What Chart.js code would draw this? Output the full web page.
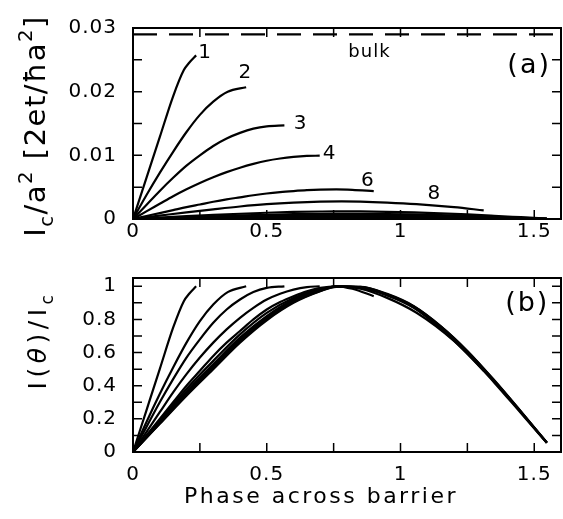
<!DOCTYPE html>
<html>
<head>
<meta charset="utf-8">
<script src="https://cdn.jsdelivr.net/npm/chart.js@4.4.0/dist/chart.umd.min.js"></script>
<style>
  html, body { margin: 0; padding: 0; background: #fff; }
  #wrap { position: relative; width: 563px; height: 519px; }
  canvas { position: absolute; left: 0; }
</style>
</head>
<body>
<div id="wrap">
  <canvas id="chartA" width="563" height="250" style="top:0"></canvas>
  <canvas id="chartB" width="563" height="269" style="top:250px"></canvas>
</div>
<script>
// axis ranges and ticks
const xMin = 0, xMax = 1.6;
const xTicks = [0, 0.5, 1, 1.5];
const yTicksA = [0, 0.01, 0.02, 0.03];
const yTicksB = [0, 0.2, 0.4, 0.6, 0.8, 1];

// curve names (labels in panel a) and critical currents I_c/a^2
const curveNames = ['1', '2', '3', '4', '6', '8', '10', '12', '14', '16', '18'];
const critCurrent = [0.0257, 0.0207, 0.0147, 0.00995, 0.00466, 0.00277, 0.00120, 0.00082, 0.00056, 0.00036, 0.00020];
const bulkCurrent = 0.029;

// phase points and normalised current I/I_c (panel b) for every curve
const phase1 = [0, 0.05, 0.10, 0.15, 0.19, 0.21, 0.236];
const norm1  = [0, 0.25, 0.50, 0.75, 0.91, 0.955, 1.0];
const phase2 = [0, 0.05, 0.10, 0.15, 0.20, 0.25, 0.30, 0.354, 0.423];
const norm2  = [0, 0.18, 0.35, 0.51, 0.66, 0.79, 0.89, 0.965, 1.0];
const phase3 = [0, 0.05, 0.10, 0.15, 0.20, 0.25, 0.30, 0.35, 0.40, 0.45, 0.50, 0.566];
const norm3  = [0, 0.15, 0.30, 0.44, 0.57, 0.68, 0.78, 0.86, 0.92, 0.965, 0.99, 1.0];
const phase4 = [0, 0.05, 0.10, 0.15, 0.20, 0.25, 0.30, 0.35, 0.40, 0.45, 0.50, 0.55, 0.60, 0.65, 0.698];
const norm4  = [0, 0.12, 0.24, 0.36, 0.47, 0.57, 0.66, 0.74, 0.81, 0.87, 0.92, 0.955, 0.98, 0.995, 1.0];
const phase6 = [0, 0.05, 0.10, 0.15, 0.20, 0.25, 0.30, 0.35, 0.40, 0.45, 0.50, 0.55, 0.60, 0.65, 0.70, 0.76, 0.82, 0.90];
const norm6  = [0, 0.10, 0.20, 0.30, 0.40, 0.49, 0.58, 0.66, 0.73, 0.80, 0.86, 0.905, 0.94, 0.97, 0.99, 1.0, 0.985, 0.94];
const phase8 = [0, 0.10, 0.20, 0.30, 0.40, 0.50, 0.60, 0.70, 0.78, 0.85, 0.95, 1.06, 1.20, 1.311];
const norm8  = [0, 0.19, 0.38, 0.55, 0.71, 0.84, 0.93, 0.985, 1.0, 0.985, 0.93, 0.84, 0.67, 0.49];
const phaseLong = [0, 0.10, 0.20, 0.30, 0.40, 0.50, 0.60, 0.70, 0.76, 0.85, 0.95, 1.05, 1.15, 1.25, 1.35, 1.45, 1.547];
const norm10 = [0, 0.185, 0.365, 0.53, 0.69, 0.82, 0.92, 0.98, 1.0, 0.99, 0.945, 0.87, 0.745, 0.595, 0.42, 0.235, 0.055];
const norm12 = [0, 0.18, 0.355, 0.52, 0.68, 0.815, 0.915, 0.978, 1.0, 0.992, 0.948, 0.872, 0.75, 0.60, 0.425, 0.24, 0.056];
const norm14 = [0, 0.175, 0.35, 0.51, 0.67, 0.805, 0.91, 0.975, 1.0, 0.994, 0.95, 0.876, 0.755, 0.605, 0.43, 0.242, 0.056];
const norm16 = [0, 0.172, 0.345, 0.505, 0.665, 0.80, 0.905, 0.972, 0.998, 0.996, 0.952, 0.878, 0.758, 0.608, 0.432, 0.244, 0.057];
const norm18 = [0, 0.17, 0.34, 0.50, 0.66, 0.795, 0.90, 0.97, 0.997, 0.997, 0.954, 0.88, 0.76, 0.61, 0.434, 0.245, 0.057];

const phaseSets = [phase1, phase2, phase3, phase4, phase6, phase8, phaseLong, phaseLong, phaseLong, phaseLong, phaseLong];
const normSets = [norm1, norm2, norm3, norm4, norm6, norm8, norm10, norm12, norm14, norm16, norm18];

const FONT = "'DejaVu Sans', sans-serif";

function fmt(v) {
    return String(parseFloat(Number(v).toFixed(3)));
}

function lineSet(name, points, dash) {
    return {
        label: name,
        data: points,
        showLine: true,
        borderColor: '#000',
        borderWidth: 2.2,
        borderDash: dash || [],
        pointRadius: 0,
        cubicInterpolationMode: 'monotone',
        fill: false
    };
}

// panel (a): current scaled by the critical current, panel (b): normalised
const setsA = curveNames.map((n, i) =>
    lineSet(n, phaseSets[i].map((p, j) => ({x: p, y: normSets[i][j] * critCurrent[i]}))));
setsA.push(lineSet('bulk', [{x: xMin, y: bulkCurrent}, {x: xMax, y: bulkCurrent}], [24, 12]));
const setsB = curveNames.map((n, i) =>
    lineSet(n, phaseSets[i].map((p, j) => ({x: p, y: normSets[i][j]}))));

// draws a run of text pieces with sub / superscripts
function drawRich(ctx, pieces, size, spacing) {
    let total = 0;
    const parts = pieces.map(p => {
        const s = p.sub || p.sup ? size * 0.68 : size;
        ctx.font = (p.italic ? 'italic ' : '') + s + 'px ' + FONT;
        ctx.letterSpacing = spacing + 'px';
        const w = ctx.measureText(p.t).width;
        total += w;
        return {p: p, s: s, w: w};
    });
    let x = -total / 2;
    parts.forEach(q => {
        ctx.font = (q.p.italic ? 'italic ' : '') + q.s + 'px ' + FONT;
        ctx.letterSpacing = spacing + 'px';
        const dy = q.p.sub ? size * 0.28 : (q.p.sup ? -size * 0.45 : 0);
        ctx.fillText(q.p.t, x, dy);
        x += q.w;
    });
}

const panelDeco = {
    id: 'panelDeco',
    beforeDraw(chart) {
        chart.ctx.letterSpacing = '1px';
    },
    afterDraw(chart, args, opts) {
        const {ctx, chartArea: a, scales: {x, y}} = chart;
        ctx.save();
        ctx.strokeStyle = '#000';
        ctx.fillStyle = '#000';
        ctx.lineWidth = 2;
        ctx.strokeRect(a.left, a.top, a.right - a.left, a.bottom - a.top);
        ctx.lineWidth = 1.5;
        ctx.beginPath();
        opts.xMarks.forEach(v => {
            const px = x.getPixelForValue(v);
            ctx.moveTo(px, a.bottom); ctx.lineTo(px, a.bottom - opts.tick);
            ctx.moveTo(px, a.top); ctx.lineTo(px, a.top + opts.tick);
        });
        opts.yMarks.forEach(v => {
            const py = y.getPixelForValue(v);
            ctx.moveTo(a.left, py); ctx.lineTo(a.left + opts.tick, py);
            ctx.moveTo(a.right, py); ctx.lineTo(a.right - opts.tick, py);
        });
        ctx.stroke();

        // texts placed in data units
        ctx.textAlign = 'center';
        ctx.textBaseline = 'middle';
        opts.texts.forEach(t => {
            ctx.font = t.size + 'px ' + FONT;
            ctx.letterSpacing = (t.spacing || 1) + 'px';
            ctx.fillText(t.text, x.getPixelForValue(t.x), y.getPixelForValue(t.y));
        });

        // axis titles
        ctx.textAlign = 'left';
        ctx.textBaseline = 'alphabetic';
        const yt = opts.yTitle;
        ctx.save();
        ctx.translate(yt.x, yt.y);
        ctx.rotate(-Math.PI / 2);
        drawRich(ctx, yt.pieces, yt.size, yt.spacing);
        ctx.restore();
        if (opts.xTitle) {
            const xt = opts.xTitle;
            ctx.save();
            ctx.translate(xt.x, xt.y);
            drawRich(ctx, xt.pieces, xt.size, xt.spacing);
            ctx.restore();
        }
        ctx.restore();
    }
};

function marks(from, to, step) {
    const out = [];
    for (let v = from; v <= to + 1e-9; v += step) out.push(+v.toFixed(4));
    return out;
}

function makeScales(yMax, yTicks, xPad, xHeight) {
    const tickFont = {family: FONT, size: 20};
    return {
        x: {
            type: 'linear', min: xMin, max: xMax,
            grid: {display: false, drawTicks: false},
            border: {display: false},
            afterBuildTicks: s => { s.ticks = xTicks.map(v => ({value: v})); },
            afterFit: s => { s.height = xHeight; },
            ticks: {padding: xPad, color: '#000', font: tickFont, maxRotation: 0, autoSkip: false,
                callback: v => fmt(v)}
        },
        y: {
            type: 'linear', min: 0, max: yMax,
            grid: {display: false, drawTicks: false},
            border: {display: false},
            afterBuildTicks: s => { s.ticks = yTicks.map(v => ({value: v})); },
            afterFit: s => { s.width = 133; },
            ticks: {padding: 16, color: '#000', font: tickFont, autoSkip: false,
                callback: v => fmt(v)}
        }
    };
}

new Chart(document.getElementById('chartA'), {
    type: 'scatter',
    data: {datasets: setsA},
    options: {
        responsive: false,
        animation: false,
        events: [],
        layout: {padding: {top: 24, right: 2, left: 0, bottom: 0}},
        scales: makeScales(0.03, yTicksA, 1, 31),
        plugins: {
            legend: {display: false},
            tooltip: {enabled: false},
            panelDeco: {
                tick: 9,
                xMarks: marks(0.25, 1.5, 0.25),
                yMarks: marks(0.005, 0.025, 0.005),
                texts: [
                    {text: '1', x: 0.27, y: 0.0261, size: 20},
                    {text: '2', x: 0.42, y: 0.0229, size: 20},
                    {text: '3', x: 0.627, y: 0.0150, size: 20},
                    {text: '4', x: 0.735, y: 0.0102, size: 20},
                    {text: '6', x: 0.878, y: 0.0060, size: 20},
                    {text: '8', x: 1.127, y: 0.0040, size: 20},
                    {text: 'bulk', x: 0.884, y: 0.0262, size: 18, spacing: 1},
                    {text: '(a)', x: 1.481, y: 0.0240, size: 27, spacing: 2}
                ],
                yTitle: {x: 45, y: 126, size: 29, spacing: 1.5, pieces: [
                    {t: 'I'}, {t: 'c', sub: true}, {t: '/a'}, {t: '2', sup: true},
                    {t: ' [2et/ħa'}, {t: '2', sup: true}, {t: ']'}
                ]}
            }
        }
    },
    plugins: [panelDeco]
});

new Chart(document.getElementById('chartB'), {
    type: 'scatter',
    data: {datasets: setsB},
    options: {
        responsive: false,
        animation: false,
        events: [],
        layout: {padding: {top: 7, right: 2, left: 0, bottom: 0}},
        scales: makeScales(1.05, yTicksB, 11, 67),
        plugins: {
            legend: {display: false},
            tooltip: {enabled: false},
            panelDeco: {
                tick: 9,
                xMarks: marks(0.25, 1.5, 0.25),
                yMarks: marks(0.1, 1.0, 0.1),
                texts: [
                    {text: '(b)', x: 1.474, y: 0.893, size: 27, spacing: 2}
                ],
                yTitle: {x: 46, y: 90, size: 25, spacing: 4.5, pieces: [
                    {t: 'I('}, {t: 'θ', italic: true}, {t: ')/I'}, {t: 'c', sub: true}
                ]},
                xTitle: {x: 321, y: 253, size: 22, spacing: 2.5, pieces: [
                    {t: 'Phase across barrier'}
                ]}
            }
        }
    },
    plugins: [panelDeco]
});
</script>
</body>
</html>
